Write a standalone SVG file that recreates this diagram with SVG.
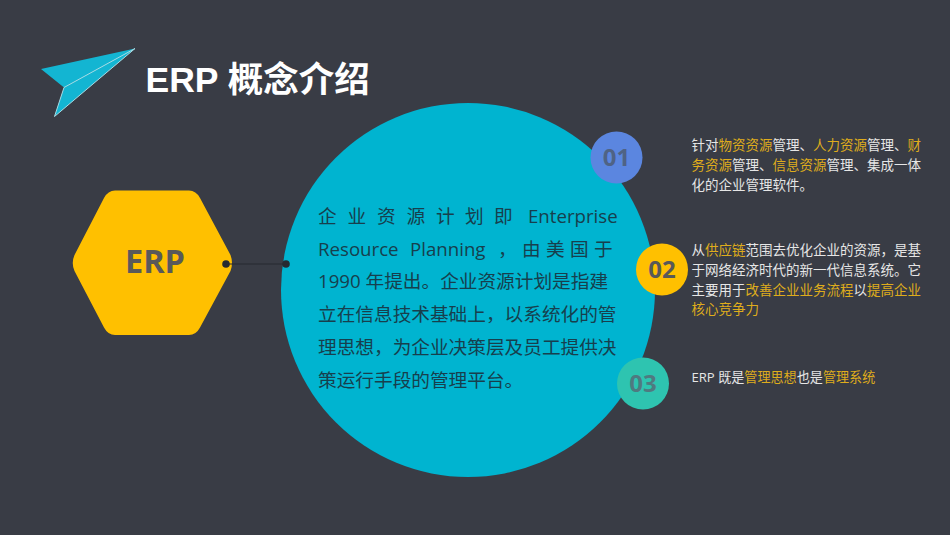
<svg xmlns="http://www.w3.org/2000/svg" width="950" height="535" viewBox="0 0 950 535">
<style>
text{font-family:"Open Sans","Noto Sans CJK SC",sans-serif}
.body{font-size:18.67px;fill:#173f4d}
.side{font-size:13.5px;fill:#e6e6e6}
.g{fill:#dfac1c}
.num{font-size:24px;font-weight:700;text-anchor:middle}
.dot{fill:#262930}
</style>
<rect width="950" height="535" fill="#393c45"/>
<g id="logo">
<path d="M135 48.500L41 69L64 87.500L54.500 116.500Z" fill="#13b5d2"/>
<path d="M135 48.500L64 87.500L54.500 116.500Z" fill="none" stroke="#a8dbe4" stroke-width="1"/>
</g>
<text id="title" x="145.500" y="92" font-size="35.5" font-weight="700" fill="#fff" style="font-family:'Liberation Sans','Noto Sans CJK SC',sans-serif">ERP 概念介绍</text>
<g id="big-circle">
<circle cx="468" cy="290" r="187" fill="#00b4d0"/>
<g class="body">
<text y="223" x="318 347.5 377 406.5 436 465 494">企业资源计划即</text>
<text y="223" x="528">Enterprise</text>
<text y="256" x="318">Resource</text>
<text y="256" x="410">Planning</text>
<text y="256" x="498 522 546 570 594">，由美国于</text>
<text y="288" x="318">1990 年提出。企业资源计划是指建</text>
<text y="321" x="318">立在信息技术基础上，以系统化的管</text>
<text y="354" x="318">理思想，为企业决策层及员工提供决</text>
<text y="387" x="318">策运行手段的管理平台。</text>
</g>
</g>
<g id="hexagon">
<path d="M115 190.500H189Q196 190.500 200 198L230.500 255Q233.500 263 230.500 271L200 327.500Q196 335 189 335H115Q108 335 104 327.500L74.500 271Q71 263 74.500 255L104 198Q108 190.500 115 190.500Z" fill="#ffc000"/>
<text x="155" y="273" font-size="32.500" font-weight="700" fill="#595959" text-anchor="middle">ERP</text>
</g>
<g id="connectors">
<line x1="226" y1="264" x2="286" y2="264" stroke="#262930" stroke-width="1.2"/>
<circle class="dot" cx="226" cy="264" r="3.8"/>
<circle class="dot" cx="286" cy="264" r="3.8"/>
</g>
<g id="n01">
<circle cx="616.500" cy="157.500" r="26" fill="#5b86e0"/>
<text class="num" x="616.500" y="166" fill="#4f6385">01</text>
<text class="side" x="691.500" y="150">针对<tspan class="g">物资资源</tspan>管理、<tspan class="g">人力资源</tspan>管理、<tspan class="g">财</tspan></text>
<text class="side" x="691.500" y="170"><tspan class="g">务资源</tspan>管理、<tspan class="g">信息资源</tspan>管理、集成一体</text>
<text class="side" x="691.500" y="190">化的企业管理软件。</text>
</g>
<g id="n02">
<circle cx="662" cy="269.500" r="26" fill="#ffc000"/>
<text class="num" x="662" y="278" fill="#595959">02</text>
<text class="side" x="691.500" y="255">从<tspan class="g">供应链</tspan>范围去优化企业的资源，是基</text>
<text class="side" x="691.500" y="275">于网络经济时代的新一代信息系统。它</text>
<text class="side" x="691.500" y="295">主要用于<tspan class="g">改善企业业务流程</tspan>以<tspan class="g">提高企业</tspan></text>
<text class="side" x="691.500" y="314"><tspan class="g">核心竞争力</tspan></text>
</g>
<g id="n03">
<circle cx="643" cy="383.500" r="26" fill="#2ec4b0"/>
<text class="num" x="643" y="392" fill="#4f7a80">03</text>
<text class="side" x="691.500" y="382" style="font-size:13.1px">ERP 既是<tspan class="g">管理思想</tspan>也是<tspan class="g">管理系统</tspan></text>
</g>
</svg>
